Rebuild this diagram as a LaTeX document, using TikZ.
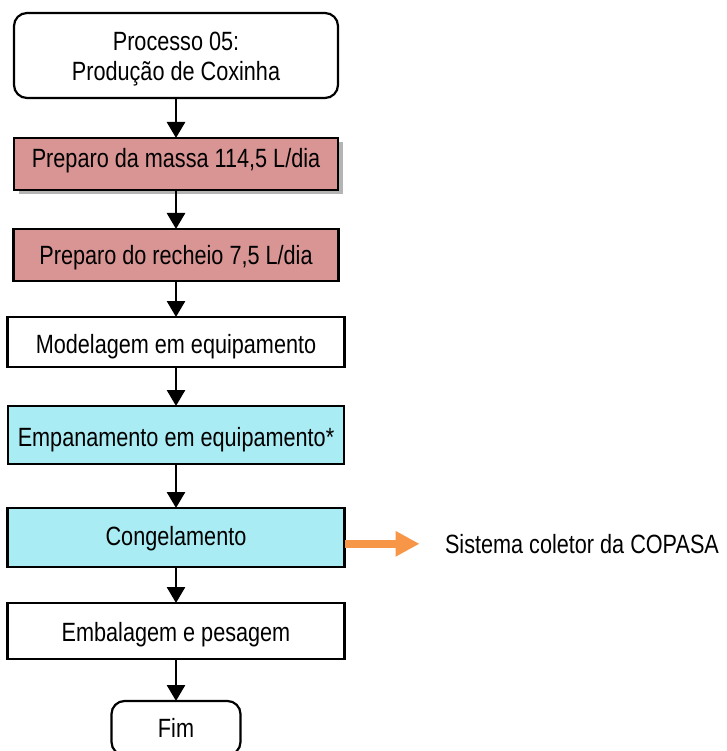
\documentclass[tikz,border=0pt]{standalone}
\usepackage{fontspec}
\setmainfont{Liberation Sans}[FakeStretch=0.82]
\usetikzlibrary{arrows.meta,shadows}

\definecolor{massa}{HTML}{D99594}
\definecolor{agua}{HTML}{A9ECF3}
\definecolor{laranja}{HTML}{F79646}
\definecolor{sombra}{HTML}{B4B4B4}

\begin{document}
\begin{tikzpicture}[x=1pt,y=-1pt,
  every node/.style={font=\fontsize{26.4}{30}\selectfont, inner sep=0pt, outer sep=0pt},
  % text height tunes where the caps sit inside each box
  etapa/.style={draw=black, line width=2.2pt, rectangle, align=center, minimum width=#1, text depth=0pt},
  etapa/.default=337pt,
  terminal/.style={etapa=#1, rounded corners=13pt},
  fluxo/.style={line width=2.8pt, -{Triangle[length=16pt,width=18pt]}},
  descarte/.style={draw=laranja, line width=8.5pt, -{Triangle[length=24pt,width=24pt]}}
]
\useasboundingbox (0,0) rectangle (726,751);

\node[terminal=324pt, minimum height=85pt, fill=white] (inicio) at (176,55.5) {};
\node[align=center] (inicio-texto) at (176,59) {Processo 05:\\Produção de Coxinha};
\node[etapa=324pt, minimum height=52pt, fill=massa, text height=7.5pt,
  drop shadow={shadow xshift=4.5pt, shadow yshift=-4.5pt, fill=sombra, opacity=1}] (massa) at (176,164)
  {Preparo da massa 114,5 L/dia};
\node[etapa=325pt, minimum height=52pt, fill=massa, text height=19.9pt] (recheio) at (176,255)
  {Preparo do recheio 7,5 L/dia};
\node[etapa, minimum height=50pt, fill=white, text height=22.9pt] (modelagem) at (176,342)
  {Modelagem em equipamento};
\node[etapa=336pt, minimum height=58pt, fill=agua, text height=23.3pt] (empanamento) at (176,435)
  {Empanamento em equipamento*};
\node[etapa, minimum height=59pt, fill=agua, text height=16.5pt] (congelamento) at (176,537.5)
  {Congelamento};
\node[etapa, minimum height=56pt, fill=white, text height=21.3pt] (embalagem) at (176,631)
  {Embalagem e pesagem};
\node[terminal=129pt, minimum height=54pt, fill=white, text height=18.9pt] (fim) at (176,728)
  {Fim};

\node[anchor=west, text height=18.9pt, text depth=0pt] (coletor) at (445,543.8) {Sistema coletor da COPASA};

\draw[fluxo] (inicio) -- (massa);
\draw[fluxo] (massa) -- (recheio);
\draw[fluxo] (recheio) -- (modelagem);
\draw[fluxo] (modelagem) -- (empanamento);
\draw[fluxo] (empanamento) -- (congelamento);
\draw[fluxo] (congelamento) -- (embalagem);
\draw[fluxo] (embalagem) -- (fim);

\draw[descarte] (congelamento.east |- coletor.west) -- ([xshift=-25.5pt]coletor.west);
\end{tikzpicture}
\end{document}
